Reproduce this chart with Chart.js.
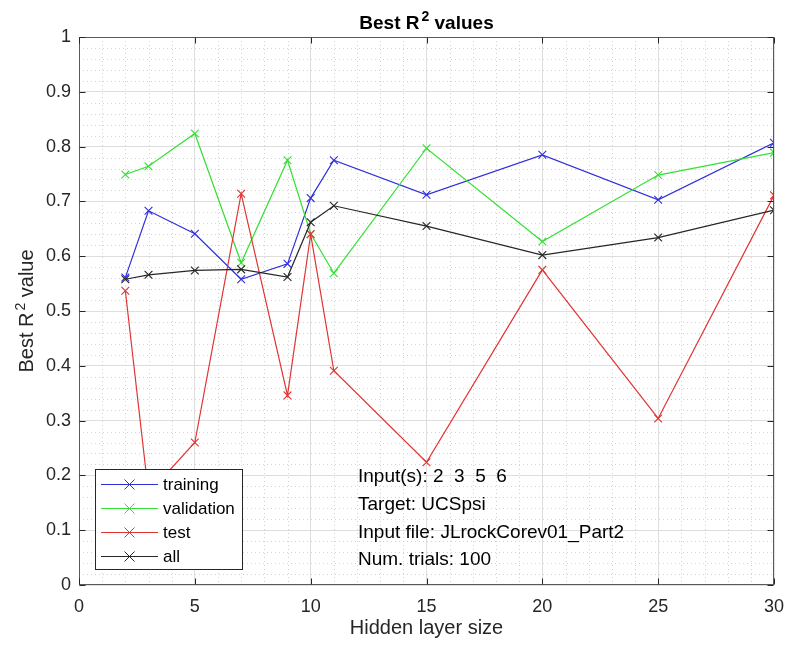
<!DOCTYPE html>
<html>
<head>
<meta charset="utf-8">
<script src="https://cdn.jsdelivr.net/npm/chart.js@4/dist/chart.umd.min.js"></script>
<style>
  html, body { margin: 0; padding: 0; background: #ffffff; }
  #wrap { width: 788px; height: 651px; }
</style>
</head>
<body>
<div id="wrap"><canvas id="c" width="788" height="651"></canvas></div>
<script>
// Hidden layer sizes tried and the best R^2 reached for each data split
const hiddenSizes = [2, 3, 5, 7, 9, 10, 11, 15, 20, 25, 30];
const trainingR2   = [0.561, 0.683, 0.641, 0.558, 0.586, 0.706, 0.775, 0.712, 0.785, 0.703, 0.807];
const validationR2 = [0.749, 0.764, 0.824, 0.588, 0.775, 0.641, 0.569, 0.797, 0.627, 0.748, 0.789];
const testR2       = [0.537, 0.167, 0.260, 0.714, 0.346, 0.640, 0.391, 0.224, 0.575, 0.304, 0.711];
const allR2        = [0.558, 0.566, 0.574, 0.576, 0.562, 0.662, 0.692, 0.655, 0.602, 0.634, 0.684];

const seriesNames = ['training', 'validation', 'test', 'all'];
const xTickValues = [0, 5, 10, 15, 20, 25, 30];
const yTickValues = [0, 0.1, 0.2, 0.3, 0.4, 0.5, 0.6, 0.7, 0.8, 0.9, 1];
const infoLines = ['Input(s): 2  3  5  6', 'Target: UCSpsi', 'Input file: JLrockCorev01_Part2', 'Num. trials: 100'];

const FONT = '"Liberation Sans", Arial, Helvetica, sans-serif';
const TEXT = '#262626';
const colors = ['#2f2fdc', '#33e033', '#e03434', '#262626'];

const toPoints = vals => hiddenSizes.map((h, i) => ({ x: h, y: vals[i] }));

const makeSet = (label, vals, color, order) => ({
  label,
  data: toPoints(vals),
  borderColor: color,
  backgroundColor: color,
  borderWidth: 1.2,
  pointStyle: 'crossRot',
  pointRadius: 5.5,
  pointBorderWidth: 1.1,
  pointHoverRadius: 5.5,
  tension: 0,
  fill: false,
  order
});

// draw "prefix R² suffix" with a raised, smaller 2, centred on cx, on baseline by
function drawSupText(ctx, parts, size, bold, cx, by) {
  const w = bold ? 'bold ' : '';
  const big = w + size + 'px ' + FONT;
  const small = w + Math.round(size * 0.72) + 'px ' + FONT;
  ctx.font = big;
  const w1 = ctx.measureText(parts[0]).width;
  const w3 = ctx.measureText(parts[2]).width;
  ctx.font = small;
  const w2 = ctx.measureText(parts[1]).width;
  const gap = 2;
  let x = cx - (w1 + gap + w2 + w3) / 2;
  ctx.textAlign = 'left';
  ctx.textBaseline = 'alphabetic';
  ctx.font = big;
  ctx.fillText(parts[0], x, by);
  x += w1 + gap;
  ctx.font = small;
  ctx.fillText(parts[1], x, by - size * 0.42);
  x += w2;
  ctx.font = big;
  ctx.fillText(parts[2], x, by);
}

function drawCross(ctx, x, y, r) {
  ctx.beginPath();
  ctx.moveTo(x - r, y - r); ctx.lineTo(x + r, y + r);
  ctx.moveTo(x - r, y + r); ctx.lineTo(x + r, y - r);
  ctx.stroke();
}

const axesDecor = {
  id: 'axesDecor',
  beforeDatasetsDraw(chart) {
    const { ctx, chartArea: a, scales: { x, y } } = chart;
    ctx.save();
    ctx.strokeStyle = '#d2d2d2';
    ctx.lineWidth = 1;
    ctx.setLineDash([1, 3]);
    for (let v = 1; v < 30; v++) {
      if (v % 5 === 0) continue;
      const px = Math.round(x.getPixelForValue(v)) + 0.5;
      ctx.beginPath(); ctx.moveTo(px, a.top); ctx.lineTo(px, a.bottom); ctx.stroke();
    }
    for (let k = 1; k < 50; k++) {
      if (k % 5 === 0) continue;
      const py = Math.round(y.getPixelForValue(k * 0.02)) + 0.5;
      ctx.beginPath(); ctx.moveTo(a.left, py); ctx.lineTo(a.right, py); ctx.stroke();
    }
    ctx.restore();
  },
  afterDatasetsDraw(chart) {
    const { ctx, chartArea: a, scales: { x, y } } = chart;
    ctx.save();
    // axes box with inward ticks on all sides
    ctx.strokeStyle = '#5a5a5a';
    ctx.lineWidth = 1;
    ctx.setLineDash([]);
    const L = Math.round(a.left) + 0.5, R = Math.round(a.right) - 0.5;
    const T = Math.round(a.top) + 0.5, B = Math.round(a.bottom) - 0.5;
    ctx.strokeRect(L, T, R - L, B - T);
    ctx.strokeStyle = '#262626';
    const tl = 6;
    xTickValues.forEach(v => {
      const px = Math.round(x.getPixelForValue(v)) + 0.5;
      ctx.beginPath();
      ctx.moveTo(px, B); ctx.lineTo(px, B - tl);
      ctx.moveTo(px, T); ctx.lineTo(px, T + tl);
      ctx.stroke();
    });
    yTickValues.forEach(v => {
      const py = Math.round(y.getPixelForValue(v)) + 0.5;
      ctx.beginPath();
      ctx.moveTo(L, py); ctx.lineTo(L + tl, py);
      ctx.moveTo(R, py); ctx.lineTo(R - tl, py);
      ctx.stroke();
    });

    // legend box in the lower-left corner
    const lx = 95.5, ly = 469.5, lw = 147, lh = 100;
    ctx.fillStyle = '#ffffff';
    ctx.fillRect(lx, ly, lw, lh);
    ctx.strokeStyle = '#262626';
    ctx.strokeRect(lx, ly, lw, lh);
    chart.data.datasets.forEach((ds, i) => {
      const ry = 484 + i * 24;
      ctx.strokeStyle = ds.borderColor;
      ctx.lineWidth = 1;
      ctx.beginPath(); ctx.moveTo(101, ry + 0.5); ctx.lineTo(158, ry + 0.5); ctx.stroke();
      drawCross(ctx, 129.5, ry + 0.5, 5);
      ctx.fillStyle = '#000000';
      ctx.font = '17px ' + FONT;
      ctx.textAlign = 'left';
      ctx.textBaseline = 'middle';
      ctx.fillText(ds.label, 163, ry + 1);
    });

    // run description
    ctx.fillStyle = '#000000';
    ctx.font = '19px ' + FONT;
    ctx.textAlign = 'left';
    ctx.textBaseline = 'middle';
    infoLines.forEach((t, i) => ctx.fillText(t, 358, 477 + i * 27.7));
    ctx.restore();
  },
  afterDraw(chart) {
    const { ctx, chartArea: a } = chart;
    const cx = (a.left + a.right) / 2;
    ctx.save();
    ctx.fillStyle = '#000000';
    drawSupText(ctx, ['Best R', '2', ' values'], 19, true, cx, 28.5);
    ctx.fillStyle = TEXT;
    ctx.font = '20px ' + FONT;
    ctx.textAlign = 'center';
    ctx.textBaseline = 'alphabetic';
    ctx.fillText('Hidden layer size', cx, 633.5);
    ctx.translate(33, (a.top + a.bottom) / 2);
    ctx.rotate(-Math.PI / 2);
    drawSupText(ctx, ['Best R', '2', ' value'], 20, false, 0, 0);
    ctx.restore();
  }
};

new Chart(document.getElementById('c'), {
  type: 'line',
  data: {
    datasets: [
      makeSet(seriesNames[0], trainingR2, colors[0], 3),
      makeSet(seriesNames[1], validationR2, colors[1], 2),
      makeSet(seriesNames[2], testR2, colors[2], 1),
      makeSet(seriesNames[3], allR2, colors[3], 0)
    ]
  },
  options: {
    responsive: false,
    animation: false,
    devicePixelRatio: 1,
    layout: { padding: { top: 37, right: 14, left: 0, bottom: 0 } },
    plugins: { legend: { display: false }, title: { display: false }, tooltip: { enabled: false } },
    scales: {
      x: {
        type: 'linear',
        min: 0, max: 30,
        afterBuildTicks: s => { s.ticks = xTickValues.map(v => ({ value: v })); },
        afterFit: s => { s.height = 66; s.paddingLeft = 0; s.paddingRight = 0; },
        ticks: { color: TEXT, font: { family: FONT, size: 18 }, padding: 11, maxRotation: 0, autoSkip: false },
        grid: { color: '#dedede', drawTicks: false },
        border: { display: false }
      },
      y: {
        type: 'linear',
        min: 0, max: 1,
        afterBuildTicks: s => { s.ticks = yTickValues.map(v => ({ value: v })); },
        afterFit: s => { s.width = 79; s.paddingTop = 0; s.paddingBottom = 0; },
        ticks: { color: TEXT, font: { family: FONT, size: 18 }, padding: 8,
                 callback: v => String(Math.round(v * 10) / 10) },
        grid: { color: '#dedede', drawTicks: false },
        border: { display: false }
      }
    }
  },
  plugins: [axesDecor]
});
</script>
</body>
</html>
